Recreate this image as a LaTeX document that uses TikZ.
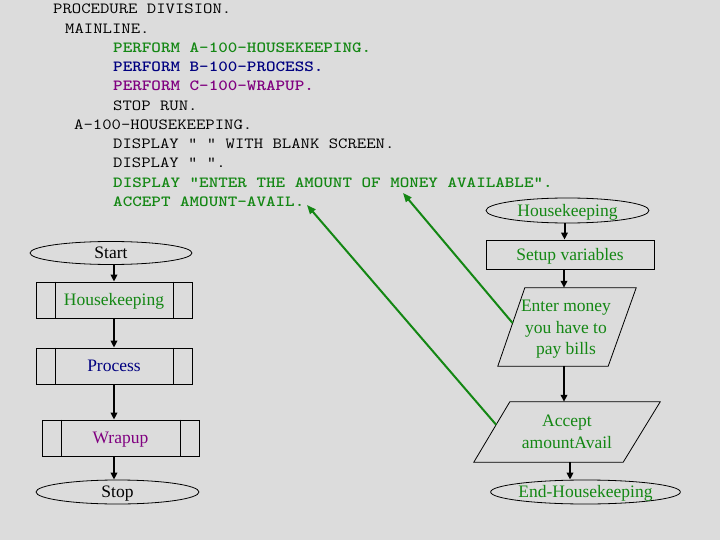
\documentclass[tikz,border=0pt]{standalone}
\usepackage{fontspec}
\setmainfont{Liberation Serif}
\newfontfamily\codebf{lmmonolt10-bold.otf}
\usetikzlibrary{arrows.meta,shapes.geometric,calc}
\definecolor{bg}{RGB}{220,220,220}
\definecolor{cgreen}{RGB}{20,135,20}
\definecolor{cblue}{RGB}{0,0,128}
\definecolor{cpurple}{RGB}{128,0,128}
\begin{document}
\begin{tikzpicture}[x=1pt,y=-1pt,
  code/.style={anchor=base west, inner sep=0, xscale=1.174, transform shape, font=\ttfamily\fontsize{15.5}{19}\selectfont},
  codeb/.style={code, font=\codebf\fontsize{15.5}{19}\selectfont},
  ftext/.style={font=\fontsize{17.5}{21.5}\selectfont},
  single/.style={text height=12pt, text depth=0.5pt},
  term/.style={ellipse, draw, line width=0.8pt, inner sep=0, ftext, single},
  proc/.style={rectangle, draw, line width=0.8pt, inner sep=0, minimum width=156, minimum height=36, ftext, single},
  para/.style={rectangle, inner sep=0, ftext, align=center},
  outline/.style={line width=0.8pt},
  flow/.style={line width=2pt, -{Triangle[length=7pt,width=6.5pt]}},
  link/.style={line width=2pt, draw=cgreen, -{Triangle[length=9pt,width=7pt]}, fill=cgreen}
]
\fill[bg] (0,0) rectangle (720,540);
\useasboundingbox (0,0) rectangle (720,540);

% code listing
\node[code] (c0) at (53,14) {PROCEDURE DIVISION.};
\node[code] (c1) at (65,33.25) {MAINLINE.};
\node[codeb, text=cgreen] (c2) at (113,52.5) {PERFORM A-100-HOUSEKEEPING.};
\node[codeb, text=cblue] (c3) at (113,71.75) {PERFORM B-100-PROCESS.};
\node[codeb, text=cpurple] (c4) at (113,91) {PERFORM C-100-WRAPUP.};
\node[code] (c5) at (113,110.25) {STOP RUN.};
\node[code] (c6) at (74,129.5) {A-100-HOUSEKEEPING.};
\node[code] (c7) at (113,148.75) {DISPLAY " " WITH BLANK SCREEN.};
\node[code] (c8) at (113,168) {DISPLAY " ".};
\node[codeb, text=cgreen] (c9) at (113,187.25) {DISPLAY "ENTER THE AMOUNT OF MONEY AVAILABLE".};
\node[codeb, text=cgreen] (c10) at (113,206.5) {ACCEPT AMOUNT-AVAIL.};

% left flowchart
\node[term, minimum width=162, minimum height=23] (start) at (111,253) {Start};
\node[proc, text=cgreen] (hk) at (114,300) {Housekeeping};
\node[proc, text=cblue] (pr) at (114,366) {Process};
\node[proc, text=cpurple, minimum width=157] (wr) at (120.5,438) {Wrapup};
\node[term, minimum width=163, minimum height=24] (stop) at (117.5,492) {Stop};
\foreach \n in {hk,pr,wr}{
  \draw[outline] ($(\n.north west)+(19.5,0)$) -- ($(\n.south west)+(19.5,0)$);
  \draw[outline] ($(\n.north east)+(-19.5,0)$) -- ($(\n.south east)+(-19.5,0)$);
}
\draw[flow] (hk.north |- start.south) -- (hk.north);
\draw[flow] (hk.south) -- (pr.north);
\draw[flow] (pr.south) -- (pr.south |- wr.north);
\draw[flow] (pr.south |- wr.south) -- (pr.south |- stop.north);

% right flowchart
\node[term, text=cgreen, minimum width=163, minimum height=25] (hkr) at (567.5,210.5) {Housekeeping};
\node[rectangle, draw, line width=0.8pt, inner sep=0, minimum width=168, minimum height=29, ftext, single, text=cgreen] (setup) at (570,254.5) {Setup variables};
\node[para, minimum width=138, minimum height=78] (enter) at (567,327) {};
\node[para, text=cgreen] (entert) at (566,329.6) {Enter money\\you have to\\pay bills};
\node[para, text=cgreen, minimum width=186, minimum height=60] (acc) at (567,432) {Accept\\amountAvail};
\node[term, text=cgreen, minimum width=163, minimum height=24] (endhk) at (585.5,492) {End-Housekeeping};

\draw[outline] ($(enter.north west)+(27,0)$) -- (enter.north east) -- ($(enter.south east)+(-28,0)$) -- (enter.south west) -- cycle;
\draw[outline] ($(acc.north west)+(36,0)$) -- (acc.north east) -- ($(acc.south east)+(-37,0)$) -- (acc.south west) -- cycle;

\draw[flow] ([xshift=-3]hkr.south) -- ([xshift=-3]hkr.south |- setup.north);
\draw[flow] ([xshift=-6]setup.south) -- ([xshift=-6]setup.south |- enter.north);
\draw[flow] ([xshift=-3]enter.south) -- ([xshift=-3]enter.south |- acc.north);
\draw[flow] ([xshift=3]acc.south) -- ([xshift=3]acc.south |- endhk.north);

% green links
\coordinate (accTL) at ($(acc.north west)+(36,0)$);
\coordinate (accL) at ($(accTL)!0.38!(acc.south west)$);
\coordinate (entTL) at ($(enter.north west)+(27,0)$);
\coordinate (entL) at ($(entTL)!0.45!(enter.south west)$);
\coordinate (availtip) at (307,205);
\coordinate (moneytip) at (403,193);
\draw[link] (accL) -- (availtip);
\draw[link] (entL) -- (moneytip);
\end{tikzpicture}
\end{document}
